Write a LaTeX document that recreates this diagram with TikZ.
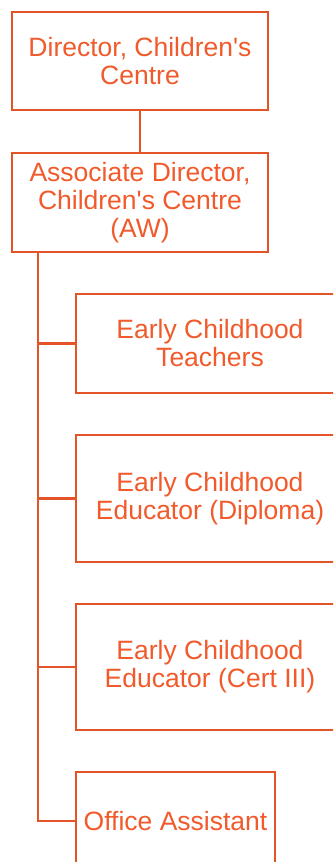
\documentclass[tikz,border=0pt]{standalone}
\usepackage{fontspec}
\setmainfont{Liberation Sans}
\definecolor{lineorange}{HTML}{E35429}
\definecolor{textorange}{HTML}{F15A2B}
\begin{document}
\begin{tikzpicture}[x=1pt,y=-1pt,
  orgbox/.style={draw=lineorange, line width=2.2pt, fill=white, rectangle,
    text=textorange, align=center, inner sep=0pt,
    font=\fontsize{26.5}{28}\selectfont},
  conn/.style={draw=lineorange, line width=2.2pt, line join=miter}]
\useasboundingbox (0,0) rectangle (333,862);
\clip (0,0) rectangle (333,862);
\node[orgbox, minimum width=256pt, minimum height=98pt] (b1) at (140,61) {Director, Children\textquotesingle s\\Centre};
\node[orgbox, minimum width=256pt, minimum height=99pt] (b2) at (140,202.5) {Associate Director,\\Children\textquotesingle s Centre\\(AW)};
\node[orgbox, minimum width=268pt, minimum height=99pt] (b3) at (210,343.5) {Early Childhood\\Teachers};
\node[orgbox, minimum width=268pt, minimum height=127pt] (b4) at (210,498.5) {Early Childhood\\Educator (Diploma)};
\node[orgbox, minimum width=268pt, minimum height=126pt] (b5) at (210,667) {Early Childhood\\Educator (Cert III)};
\node[orgbox, minimum width=199pt, minimum height=98pt] (b6) at (175.5,821) {Office Assistant};
\coordinate (t0) at (38,252);
\draw[conn] (b1.south) -- (b2.north);
\draw[conn] (t0) |- (b6.west);
\draw[conn] (b3.west) -- (b3.west -| t0);
\draw[conn] (b4.west) -- (b4.west -| t0);
\draw[conn] (b5.west) -- (b5.west -| t0);
\end{tikzpicture}
\end{document}
